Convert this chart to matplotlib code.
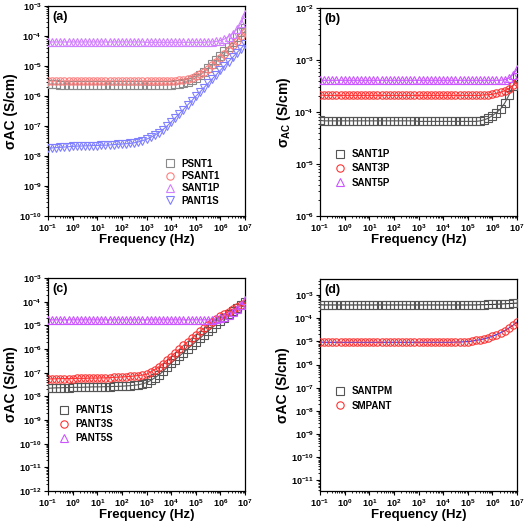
import numpy as np
import matplotlib.pyplot as plt
from matplotlib.ticker import LogLocator, FixedLocator

plt.rcParams['font.family'] = ['Liberation Sans', 'DejaVu Sans']
plt.rcParams['font.weight'] = 'bold'
plt.rcParams['mathtext.fontset'] = 'custom'
plt.rcParams['mathtext.rm'] = 'Liberation Sans:bold'
plt.rcParams['mathtext.bf'] = 'Liberation Sans:bold'
plt.rcParams['mathtext.it'] = 'Liberation Sans:bold:italic'
plt.rcParams['mathtext.default'] = 'bf'

# frequency grid: 6 points per decade, 0.1 Hz .. 10 MHz
freq = np.logspace(-1, 7, 49)

# log10(sigma_AC)
# (a)
psnt1 = [-5.60, -5.61, -5.61, -5.62, -5.62, -5.62,
         -5.62, -5.62, -5.62, -5.62, -5.62, -5.62,
         -5.62, -5.62, -5.62, -5.62, -5.63, -5.63,
         -5.63, -5.63, -5.63, -5.63, -5.63, -5.63,
         -5.64, -5.64, -5.64, -5.64, -5.63, -5.63,
         -5.62, -5.61, -5.59, -5.56, -5.52, -5.46,
         -5.39, -5.30, -5.19, -5.07, -4.94, -4.80,
         -4.66, -4.51, -4.36, -4.20, -4.04, -3.88, -3.72]
psant1 = [-5.49, -5.50, -5.50, -5.50, -5.50, -5.50,
          -5.50, -5.50, -5.50, -5.50, -5.50, -5.50,
          -5.50, -5.50, -5.50, -5.50, -5.50, -5.50,
          -5.50, -5.50, -5.50, -5.50, -5.50, -5.50,
          -5.50, -5.50, -5.50, -5.50, -5.50, -5.50,
          -5.50, -5.49, -5.48, -5.46, -5.43, -5.39,
          -5.34, -5.27, -5.19, -5.09, -4.98, -4.86,
          -4.73, -4.59, -4.45, -4.30, -4.15, -4.00, -3.85]
sant1p_a = [-4.19, -4.20, -4.20, -4.20, -4.20, -4.20,
            -4.20, -4.20, -4.20, -4.20, -4.20, -4.20,
            -4.20, -4.20, -4.20, -4.20, -4.20, -4.20,
            -4.20, -4.20, -4.20, -4.20, -4.20, -4.20,
            -4.21, -4.21, -4.21, -4.21, -4.21, -4.21,
            -4.21, -4.21, -4.21, -4.21, -4.21, -4.21,
            -4.21, -4.21, -4.21, -4.20, -4.20, -4.18,
            -4.15, -4.10, -4.02, -3.92, -3.78, -3.58, -3.25]
pant1s_a = [-7.74, -7.73, -7.72, -7.71, -7.70, -7.69,
            -7.68, -7.67, -7.67, -7.66, -7.66, -7.65,
            -7.65, -7.64, -7.64, -7.63, -7.62, -7.61,
            -7.60, -7.59, -7.58, -7.56, -7.53, -7.49,
            -7.44, -7.38, -7.31, -7.22, -7.12, -7.00,
            -6.87, -6.73, -6.59, -6.45, -6.30, -6.16,
            -6.01, -5.87, -5.72, -5.58, -5.43, -5.29,
            -5.14, -5.00, -4.85, -4.71, -4.56, -4.42, -4.27]

# (b)
sant1p = [-4.16, -4.17, -4.17, -4.17, -4.17, -4.17,
          -4.17, -4.17, -4.17, -4.17, -4.17, -4.17,
          -4.17, -4.17, -4.17, -4.17, -4.17, -4.17,
          -4.17, -4.17, -4.17, -4.17, -4.17, -4.17,
          -4.18, -4.18, -4.18, -4.18, -4.18, -4.18,
          -4.18, -4.18, -4.18, -4.18, -4.18, -4.18,
          -4.18, -4.18, -4.18, -4.17, -4.15, -4.12,
          -4.07, -4.01, -3.94, -3.83, -3.68, -3.50, -3.32]
sant3p = [-3.67, -3.68, -3.68, -3.68, -3.68, -3.68,
          -3.68, -3.68, -3.68, -3.68, -3.68, -3.68,
          -3.68, -3.68, -3.68, -3.68, -3.68, -3.68,
          -3.68, -3.68, -3.68, -3.68, -3.68, -3.68,
          -3.68, -3.68, -3.68, -3.68, -3.68, -3.68,
          -3.68, -3.68, -3.68, -3.68, -3.68, -3.68,
          -3.68, -3.68, -3.68, -3.68, -3.67, -3.67,
          -3.66, -3.64, -3.62, -3.59, -3.55, -3.49, -3.42]
sant5p = [-3.38, -3.39, -3.39, -3.39, -3.39, -3.39,
          -3.39, -3.39, -3.39, -3.39, -3.39, -3.39,
          -3.39, -3.39, -3.39, -3.39, -3.39, -3.39,
          -3.39, -3.39, -3.39, -3.39, -3.39, -3.39,
          -3.39, -3.39, -3.39, -3.39, -3.39, -3.39,
          -3.39, -3.39, -3.39, -3.39, -3.39, -3.39,
          -3.39, -3.39, -3.39, -3.39, -3.39, -3.39,
          -3.39, -3.39, -3.39, -3.38, -3.35, -3.28, -3.18]

# (c)
pant1s = [-7.66, -7.65, -7.64, -7.64, -7.63, -7.63,
          -7.62, -7.62, -7.62, -7.61, -7.61, -7.60,
          -7.60, -7.60, -7.59, -7.59, -7.58, -7.58,
          -7.57, -7.56, -7.55, -7.53, -7.51, -7.47,
          -7.42, -7.33, -7.22, -7.10, -6.95, -6.78,
          -6.60, -6.45, -6.30, -6.15, -6.00, -5.85,
          -5.70, -5.55, -5.40, -5.25, -5.10, -4.95,
          -4.80, -4.67, -4.53, -4.40, -4.27, -4.13, -4.00]
pant3s = [-7.27, -7.26, -7.26, -7.25, -7.25, -7.25,
          -7.25, -7.24, -7.24, -7.24, -7.23, -7.23,
          -7.23, -7.22, -7.22, -7.21, -7.20, -7.19,
          -7.18, -7.17, -7.16, -7.14, -7.12, -7.10,
          -7.07, -6.97, -6.87, -6.75, -6.62, -6.47,
          -6.32, -6.16, -6.01, -5.85, -5.70, -5.55,
          -5.40, -5.26, -5.12, -4.98, -4.86, -4.74,
          -4.62, -4.52, -4.42, -4.32, -4.23, -4.14, -4.05]
pant5s = [-4.76, -4.77, -4.77, -4.77, -4.77, -4.77,
          -4.77, -4.77, -4.77, -4.77, -4.77, -4.77,
          -4.77, -4.77, -4.77, -4.77, -4.77, -4.77,
          -4.77, -4.77, -4.77, -4.77, -4.77, -4.77,
          -4.77, -4.77, -4.77, -4.77, -4.77, -4.77,
          -4.77, -4.77, -4.77, -4.77, -4.77, -4.77,
          -4.77, -4.77, -4.77, -4.77, -4.76, -4.73,
          -4.69, -4.63, -4.55, -4.45, -4.32, -4.15, -3.95]

# (d)
santpm = [-3.42, -3.43, -3.43, -3.43, -3.43, -3.43,
          -3.43, -3.43, -3.43, -3.43, -3.43, -3.43,
          -3.43, -3.43, -3.43, -3.43, -3.43, -3.43,
          -3.43, -3.43, -3.43, -3.43, -3.43, -3.43,
          -3.43, -3.43, -3.43, -3.43, -3.43, -3.43,
          -3.43, -3.43, -3.43, -3.43, -3.43, -3.43,
          -3.43, -3.43, -3.43, -3.42, -3.42, -3.41,
          -3.41, -3.40, -3.39, -3.38, -3.37, -3.36, -3.35]
smpant = [-5.03, -5.04, -5.04, -5.04, -5.04, -5.04,
          -5.04, -5.04, -5.04, -5.04, -5.04, -5.04,
          -5.04, -5.04, -5.04, -5.04, -5.04, -5.04,
          -5.04, -5.04, -5.04, -5.04, -5.04, -5.04,
          -5.04, -5.04, -5.04, -5.04, -5.04, -5.04,
          -5.04, -5.04, -5.04, -5.03, -5.03, -5.02,
          -5.01, -4.99, -4.96, -4.93, -4.89, -4.84,
          -4.78, -4.71, -4.63, -4.54, -4.43, -4.31, -4.17]

GRAY, RED, VIO = '#555555', '#ff3333', '#cc55ff'

panels = [
    dict(rect=[0.0913, 0.5901, 0.3745, 0.3985], tag='(a)', ylim=(1e-10, 1e-3),
         ylabel='σAC (S/cm)', leg=(0.57, 0.03), lsp=0.25, series=[
            ('PSNT1', psnt1, 's', '#8a8a8a', '#8a8a8a'),
            ('PSANT1', psant1, 'o', '#ff7f7f', '#ff7f7f'),
            ('SANT1P', sant1p_a, '^', '#d27fff', '#d27fff'),
            ('PANT1S', pant1s_a, 'v', '#8080ff', '#8080ff')]),
    dict(rect=[0.6084, 0.5901, 0.3745, 0.3947], tag='(b)', ylim=(1e-6, 1e-2),
         ylabel=r'$\sigma_{AC}$ (S/cm)', leg=(0.05, 0.117), lsp=0.45, series=[
            ('SANT1P', sant1p, 's', GRAY, GRAY),
            ('SANT3P', sant3p, 'o', RED, RED),
            ('SANT5P', sant5p, '^', VIO, VIO)]),
    dict(rect=[0.0913, 0.0683, 0.3745, 0.4042], tag='(c)', ylim=(1e-12, 1e-3),
         ylabel='σAC (S/cm)', leg=(0.03, 0.207), lsp=0.4, series=[
            ('PANT1S', pant1s, 's', GRAY, GRAY),
            ('PANT3S', pant3s, 'o', RED, RED),
            ('PANT5S', pant5s, '^', VIO, VIO)]),
    dict(rect=[0.6084, 0.0683, 0.3745, 0.4023], tag='(d)', ylim=(3.5e-12, 4.9e-3),
         ylabel='σAC (S/cm)', leg=(0.05, 0.361), lsp=0.45, series=[
            ('SANTPM', santpm, 's', GRAY, '#333333'),
            ('SMPANT', smpant, 'o', RED, '#2233ff')]),
]

fig = plt.figure(figsize=(5.26, 5.27), dpi=100)

for p in panels:
    ax = fig.add_axes(p['rect'])
    for name, logs, mk, col, lcol in p['series']:
        y = 10.0 ** np.array(logs)
        ax.plot(freq, y, color=lcol, lw=0.8, zorder=2)
        ax.plot(freq, y, ls='none', marker=mk, ms=5.3, mfc='none', mec=col,
                mew=0.8, label=name, zorder=3)
    ax.set_xscale('log')
    ax.set_yscale('log')
    ax.set_xlim(1e-1, 1e7)
    lo, hi = p['ylim']
    ax.set_ylim(lo, hi)
    ax.xaxis.set_major_locator(LogLocator(base=10, numticks=20))
    ydec = np.arange(np.ceil(np.log10(lo) - 1e-9), np.floor(np.log10(hi) + 1e-9) + 1)
    ax.yaxis.set_major_locator(FixedLocator(10.0 ** ydec))
    ax.xaxis.set_minor_locator(LogLocator(base=10, subs=np.arange(2, 10), numticks=100))
    ax.yaxis.set_minor_locator(LogLocator(base=10, subs=np.arange(2, 10), numticks=100))
    ax.tick_params(which='both', direction='out', top=False, right=False,
                   labelsize=6.5, pad=1.5)
    ax.tick_params(which='major', length=3, width=0.8)
    ax.tick_params(which='minor', length=1.5, width=0.6)
    for s in ax.spines.values():
        s.set_linewidth(0.9)
    ax.set_xlabel('Frequency (Hz)', fontsize=9.5, fontweight='bold', labelpad=0)
    ax.set_ylabel(p['ylabel'], fontsize=10, fontweight='bold', labelpad=1)
    ax.text(0.02, 0.975, p['tag'], transform=ax.transAxes, ha='left', va='top',
            fontsize=9, fontweight='bold')
    leg = ax.legend(loc='lower left', bbox_to_anchor=p['leg'], frameon=False,
                    fontsize=7, handletextpad=0.6, labelspacing=p['lsp'],
                    handlelength=1.2, borderaxespad=0)
    for t in leg.get_texts():
        t.set_fontweight('bold')

fig.savefig('out.png', dpi=100)
